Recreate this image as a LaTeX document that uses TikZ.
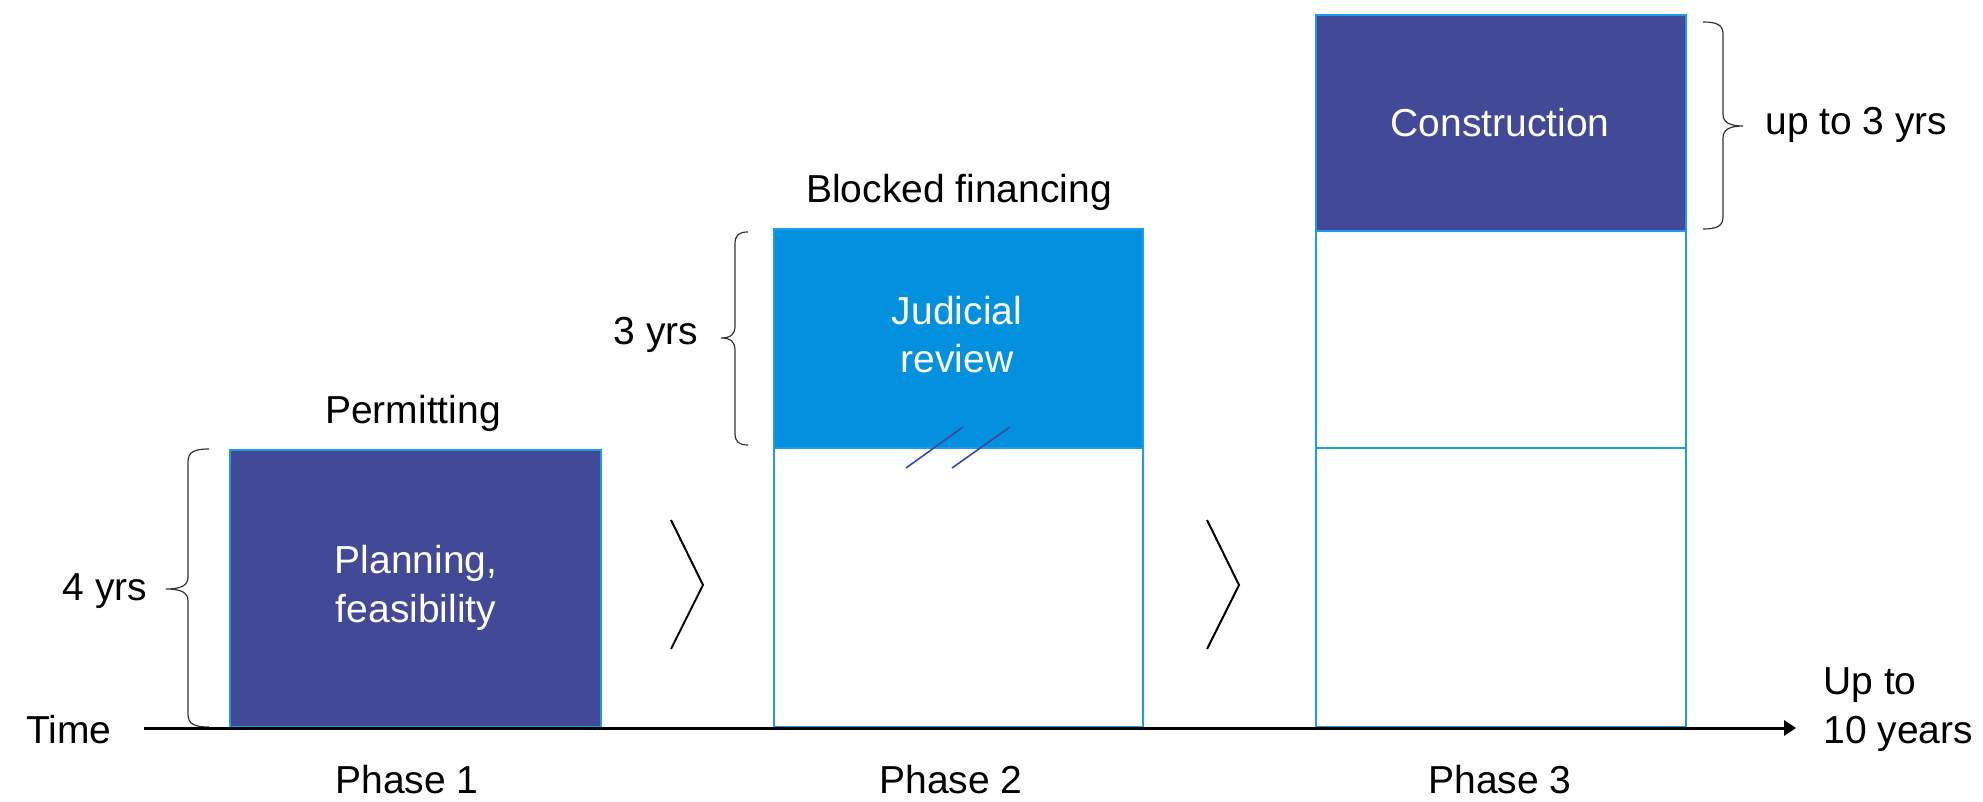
\documentclass[tikz,border=0pt]{standalone}
\usepackage{fontspec}
\setmainfont{Liberation Sans}
\usetikzlibrary{arrows.meta}
\definecolor{navy}{RGB}{66,73,151}
\definecolor{sky}{RGB}{3,145,223}
\definecolor{edge}{RGB}{30,155,230}
\definecolor{slash}{RGB}{61,72,160}

\begin{document}
\begin{tikzpicture}[x=0.5pt,y=-0.5pt,
  lbl/.style={font=\fontsize{19.5}{24.5}\selectfont, inner sep=0pt, text=black},
  inlbl/.style={lbl, text=white, align=center},
  phasebox/.style={draw=edge, line width=1pt},
  divider/.style={draw=edge, line width=1.4pt},
  bracket/.style={draw=black!80, line width=0.6pt},
  chev/.style={draw=black, line width=1pt},
  axisline/.style={draw=black, line width=1.5pt, -{Triangle[length=6pt,width=7.5pt]}},
  hatch/.style={draw=slash, line width=0.8pt}]
\useasboundingbox (0,0) rectangle (1983,802);

% Phase 1: planning block
\fill[navy] (230,450) rectangle (601,727);
\draw[phasebox] (230,450) rectangle (601,727);

% Phase 2: judicial review stacked on the permitting height
\fill[sky] (774,229) rectangle (1143,448);
\draw[phasebox] (774,229) rectangle (1143,727);
\draw[divider] (774,448) -- (1143,448);

% Phase 3: construction stacked on top
\fill[navy] (1316,15) rectangle (1686,231);
\draw[phasebox] (1316,15) rectangle (1686,727);
\draw[divider] (1316,231) -- (1686,231);
\draw[divider] (1316,448) -- (1686,448);

% break marks across the phase 2 boundary
\draw[hatch] (906,468) -- (963,427);
\draw[hatch] (952,468) -- (1010,427);

% chevrons between phases
\draw[chev] (671,520) -- (703,585) -- (671,649);
\draw[chev] (1207,520) -- (1239,585) -- (1207,649);

% duration braces
\draw[bracket] (209,449) .. controls (194,449) and (188,452) .. (188,462) -- (188,577)
  .. controls (188,585) and (182,589) .. (166,589)
  .. controls (182,589) and (188,593) .. (188,601) -- (188,714)
  .. controls (188,724) and (194,727) .. (209,727);
\draw[bracket] (748,232) .. controls (739,232) and (735,235) .. (735,244) -- (735,326)
  .. controls (735,334) and (731,338) .. (721,338)
  .. controls (731,338) and (735,342) .. (735,350) -- (735,433)
  .. controls (735,442) and (739,445) .. (748,445);
\draw[bracket] (1703,22) .. controls (1717,22) and (1723,25) .. (1723,34) -- (1723,114)
  .. controls (1723,122) and (1729,126) .. (1743,126)
  .. controls (1729,126) and (1723,130) .. (1723,138) -- (1723,217)
  .. controls (1723,226) and (1717,229) .. (1703,229);

% time axis
\coordinate (tstart) at (144,728);
\coordinate (tend) at (1796,728);
\draw[axisline] (tstart) -- (tend);

% labels (multi-line nodes sit on the baseline of their last line)
\node[lbl, anchor=base] (permit) at (413,423) {Permitting};
\node[lbl, anchor=base] (blocked) at (959,203) {Blocked financing};
\node[lbl, anchor=base] (four) at (105,600) {4 yrs};
\node[lbl, anchor=base] (three) at (656,345) {3 yrs};
\node[lbl, anchor=base] (time) at (69,743) {Time};
\node[lbl, anchor=base] (ph1) at (407,793) {Phase 1};
\node[lbl, anchor=base] (ph2) at (951,793) {Phase 2};
\node[lbl, anchor=base] (ph3) at (1500,793) {Phase 3};
\node[inlbl, anchor=base] (plan) at (416,622) {Planning,\\feasibility};
\node[inlbl, anchor=base] (jud) at (957,373) {Judicial\\review};
\node[inlbl, anchor=base] (cons) at (1500,137) {Construction};
\node[lbl, anchor=base west] (upto) at (1765,135) {up to 3 yrs};
\node[lbl, anchor=base west, align=left] (ten) at (1823,743) {Up to\\10 years};
\end{tikzpicture}
\end{document}
